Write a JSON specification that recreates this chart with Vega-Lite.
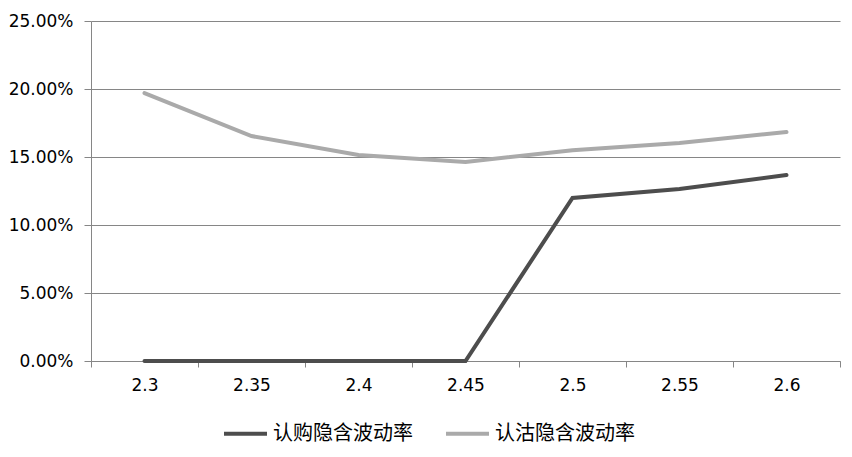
{
  "$schema": "https://vega.github.io/schema/vega-lite/v6.json",
  "autosize": {"type": "none"},
  "width": 749,
  "height": 340,
  "padding": {"left": 91, "top": 21, "right": 12, "bottom": 96},
  "background": "white",
  "config": {"view": {"stroke": null}},
  "data": {
    "values": [
      {"k": "2.3", "s": "认购隐含波动率", "v": 0.0},
      {"k": "2.35", "s": "认购隐含波动率", "v": 0.0},
      {"k": "2.4", "s": "认购隐含波动率", "v": 0.0},
      {"k": "2.45", "s": "认购隐含波动率", "v": 0.0},
      {"k": "2.5", "s": "认购隐含波动率", "v": 0.1199},
      {"k": "2.55", "s": "认购隐含波动率", "v": 0.1265},
      {"k": "2.6", "s": "认购隐含波动率", "v": 0.1368},
      {"k": "2.3", "s": "认沽隐含波动率", "v": 0.197},
      {"k": "2.35", "s": "认沽隐含波动率", "v": 0.1654},
      {"k": "2.4", "s": "认沽隐含波动率", "v": 0.1515},
      {"k": "2.45", "s": "认沽隐含波动率", "v": 0.1463},
      {"k": "2.5", "s": "认沽隐含波动率", "v": 0.155},
      {"k": "2.55", "s": "认沽隐含波动率", "v": 0.1603},
      {"k": "2.6", "s": "认沽隐含波动率", "v": 0.1684}
    ]
  },
  "mark": {"type": "line", "strokeWidth": 4, "strokeCap": "round"},
  "encoding": {
    "x": {
      "field": "k", "type": "ordinal", "sort": null,
      "bandPosition": 0.5,
      "scale": {"type": "band", "paddingInner": 0, "paddingOuter": 0},
      "axis": {
        "title": null, "labelAngle": 0, "tickBand": "extent",
        "domainColor": "#868686", "tickColor": "#868686", "tickSize": 6,
        "labelPadding": 10, "labelFont": "DejaVu Sans", "labelFontSize": 17,
        "labelColor": "#000000", "grid": false
      }
    },
    "y": {
      "field": "v", "type": "quantitative",
      "scale": {"domain": [0, 0.25]},
      "axis": {
        "title": null, "format": ".2%", "values": [0, 0.05, 0.1, 0.15, 0.2, 0.25],
        "domainColor": "#868686", "tickColor": "#868686", "tickSize": 7,
        "gridColor": "#868686", "gridWidth": 1,
        "labelPadding": 11, "labelFont": "DejaVu Sans", "labelFontSize": 17,
        "labelColor": "#000000"
      }
    },
    "color": {
      "field": "s", "type": "nominal",
      "scale": {"domain": ["认购隐含波动率", "认沽隐含波动率"], "range": ["#4d4d4d", "#aaaaaa"]},
      "legend": {
        "title": null, "orient": "none", "direction": "horizontal",
        "legendX": 131, "legendY": 389,
        "symbolType": "stroke", "symbolSize": 1849, "symbolStrokeWidth": 4,
        "labelFont": "Noto Sans CJK SC", "labelFontSize": 20, "labelColor": "#000000",
        "labelOffset": 4, "columnPadding": 25, "labelLimit": 300
      }
    }
  }
}
